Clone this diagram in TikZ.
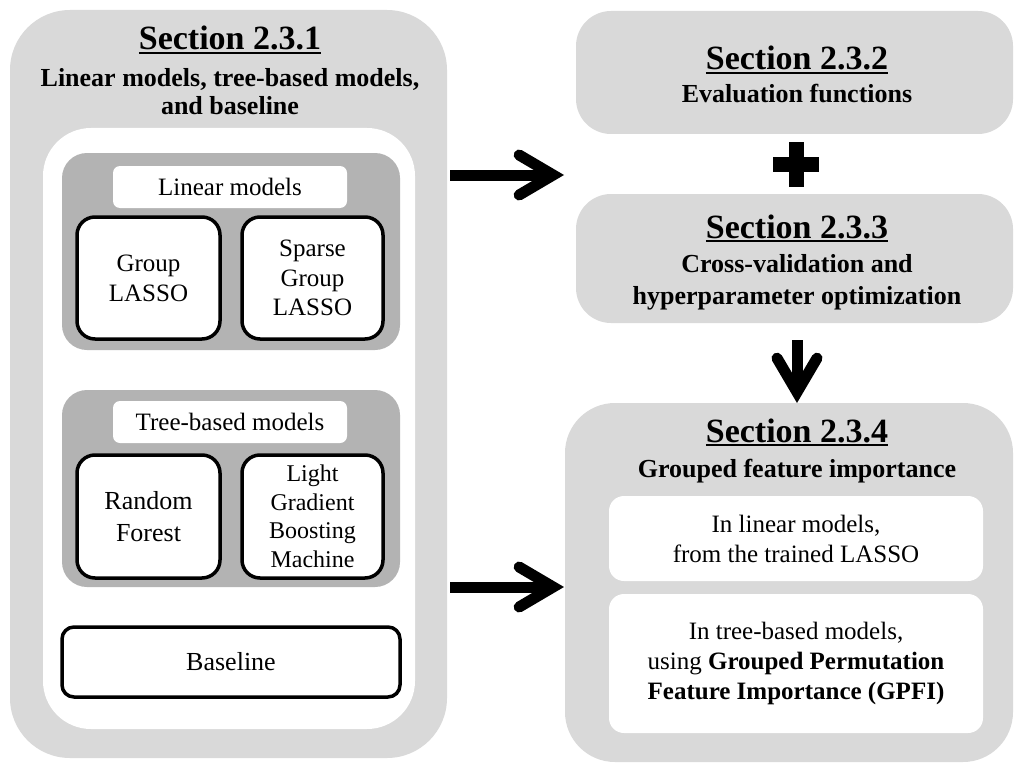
\documentclass[tikz,border=0pt]{standalone}
\usepackage{fontspec}
\setmainfont{Liberation Serif}
\usetikzlibrary{arrows.meta}
\definecolor{lgray}{RGB}{217,217,217}
\definecolor{dgray}{RGB}{179,179,179}
\newcommand{\secul}[1]{\setbox0\hbox{#1}\leavevmode\rlap{\rule[-4pt]{\wd0}{2pt}}\box0}
\begin{document}
\begin{tikzpicture}[x=1pt,y=-1pt,
  panel/.style={fill=lgray, draw=none, rounded corners=#1, inner sep=0pt, outer sep=0pt},
  panel/.default=35pt,
  whitepanel/.style={fill=white, draw=none, rounded corners=#1, inner sep=0pt, outer sep=0pt},
  whitepanel/.default=15pt,
  group/.style={fill=dgray, draw=none, rounded corners=25pt, inner sep=0pt, outer sep=0pt},
  tag/.style={fill=white, draw=none, rounded corners=7pt, inner sep=0pt, minimum width=234pt, minimum height=42pt, font=\fontsize{25}{30}\selectfont},
  model/.style={fill=white, draw=black, line width=3.5pt, rounded corners=18pt, inner sep=0pt, align=center, font=\fontsize{25}{30}\selectfont},
  sectitle/.style={anchor=base, inner sep=0pt, font=\fontsize{34}{40}\selectfont\bfseries},
  subtitle/.style={anchor=base, inner sep=0pt, font=\fontsize{26}{30}\selectfont\bfseries},
  body/.style={align=center, inner sep=0pt, font=\fontsize{25}{30}\selectfont},
  bigarrow/.style={line width=11pt, -{Straight Barb[length=34pt,width=40pt,line cap=round,line join=miter]}}
]
\useasboundingbox (0,0) rectangle (1014,765);

% ---------- Left panel (Section 2.3.1)
\node[panel=60pt, minimum width=437pt, minimum height=748pt] (L) at (228.5,384) {};
\node[whitepanel=48pt, minimum width=372pt, minimum height=601pt] (Lw) at (229,428.5) {};
\node[sectitle] (t231) at (230,50) {\secul{Section 2.3.1}};
\node[subtitle] (s231a) at (230,87) {Linear models, tree-based models,};
\node[subtitle] (s231b) at (230,114) {and baseline};

\node[group, minimum width=338pt, minimum height=197pt] (lin) at (231,251.5) {};
\node[tag] (lintag) at (230,187) {Linear models};
\node[model, minimum width=143pt, minimum height=122pt] (gl) at (148.5,278) {Group\\LASSO};
\node[model, minimum width=141pt, minimum height=122pt, font=\fontsize{25}{29.5}\selectfont] (sgl) at (312.5,278) {Sparse\\Group\\LASSO};

\node[group, minimum width=338pt, minimum height=197pt] (tree) at (231,488.5) {};
\node[tag] (treetag) at (230,422) {Tree-based models};
\node[model, minimum width=143pt, minimum height=123pt, font=\fontsize{26}{32}\selectfont] (rf) at (148.5,516.5) {Random\\Forest};
\node[model, minimum width=141pt, minimum height=123pt, font=\fontsize{24}{28.5}\selectfont] (lgbm) at (312.5,516.5) {Light\\Gradient\\Boosting\\Machine};

\node[model, rounded corners=12pt, minimum width=338pt, minimum height=70pt, font=\fontsize{26}{30}\selectfont] (base) at (231,662) {Baseline};

% ---------- Right column
\node[panel=35pt, minimum width=437pt, minimum height=123pt] (B2) at (794.5,72.5) {};
\node[sectitle] (t232) at (797,70) {\secul{Section 2.3.2}};
\node[subtitle] (s232) at (797,103) {Evaluation functions};

\fill (773,157) rectangle (819,172);
\fill (789,142) rectangle (804,187);

\node[panel=35pt, minimum width=437pt, minimum height=129pt] (B3) at (794.5,258.5) {};
\node[sectitle] (t233) at (797,238) {\secul{Section 2.3.3}};
\node[subtitle] (s233a) at (797,272) {Cross-validation and};
\node[subtitle] (s233b) at (797,304) {hyperparameter optimization};

\node[panel=50pt, minimum width=448pt, minimum height=359pt] (B4) at (789,582.5) {};
\node[sectitle] (t234) at (797,442) {\secul{Section 2.3.4}};
\node[subtitle] (s234) at (797,477) {Grouped feature importance};
\node[whitepanel=15pt, minimum width=374pt, minimum height=85pt, body] (w1) at (796,538.5) {In linear models,\\from the trained LASSO};
\node[whitepanel=15pt, minimum width=374pt, minimum height=139pt, body] (w2) at (796,663.5) {In tree-based models,\\using \textbf{Grouped Permutation}\\\textbf{Feature Importance (GPFI)}};

% ---------- Arrows
\coordinate (a1) at (564,175);
\coordinate (a2) at (564,587);
\coordinate (d1) at (797,340);
\draw[bigarrow] ([xshift=3pt]L.east |- a1) -- (a1);
\draw[bigarrow] ([xshift=3pt]L.east |- a2) -- (a2);
\draw[bigarrow] (d1) -- (B4.north -| d1);
\end{tikzpicture}
\end{document}
